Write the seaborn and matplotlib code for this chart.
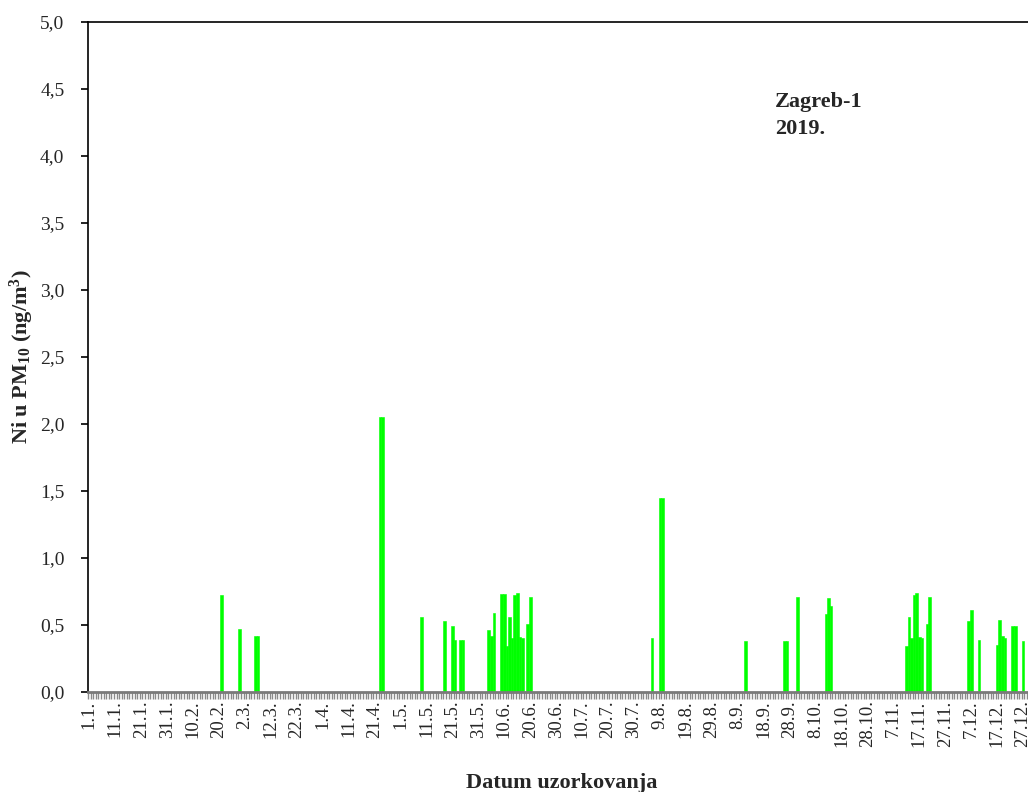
import numpy as np
import pandas as pd
import matplotlib
matplotlib.use("Agg")
import matplotlib.pyplot as plt
import seaborn as sns

# sampling days with measured Ni (other days: no value / zero)
sample_dates = ["02-21", "02-28", "03-06", "03-07", "04-23", "04-24", "05-09",
                "05-18", "05-21", "05-22", "05-24", "05-25",
                "06-04", "06-05", "06-06", "06-09", "06-10", "06-11", "06-12",
                "06-13", "06-14", "06-15", "06-16", "06-17", "06-19", "06-20",
                "08-06", "08-09", "08-10", "09-11", "09-26", "09-27", "10-01",
                "10-12", "10-13", "10-14",
                "11-12", "11-13", "11-14", "11-15", "11-16", "11-17", "11-18",
                "11-20", "11-21",
                "12-06", "12-07", "12-10", "12-17", "12-18", "12-19", "12-20",
                "12-23", "12-24", "12-27"]
ni_values = [0.72, 0.47, 0.42, 0.42, 2.05, 2.05, 0.56,
             0.53, 0.49, 0.39, 0.39, 0.39,
             0.46, 0.42, 0.59, 0.73, 0.73, 0.34, 0.56,
             0.40, 0.72, 0.74, 0.41, 0.40, 0.51, 0.71,
             0.40, 1.45, 1.45, 0.38, 0.38, 0.38, 0.71,
             0.58, 0.70, 0.64,
             0.34, 0.56, 0.40, 0.72, 0.74, 0.41, 0.40,
             0.51, 0.71,
             0.53, 0.61, 0.39, 0.35, 0.54, 0.42, 0.40,
             0.49, 0.49, 0.38]

year_days = pd.date_range("2019-01-01", "2019-12-31", freq="D")
day_labels = [f"{d.day}.{d.month}." for d in year_days]

measured = pd.Series(ni_values, index=pd.to_datetime(["2019-" + s for s in sample_dates]))
df = pd.DataFrame({"day": day_labels,
                   "ni": measured.reindex(year_days).fillna(0).values})

sns.set_theme(style="ticks")
plt.rcParams["font.family"] = ["Liberation Serif", "DejaVu Serif"]
plt.rcParams["mathtext.fontset"] = "custom"
plt.rcParams["mathtext.rm"] = "Liberation Serif"
plt.rcParams["mathtext.bf"] = "Liberation Serif:bold"
plt.rcParams["mathtext.default"] = "bf"

fig = plt.figure(figsize=(10.28, 7.92), dpi=100)
ax = fig.add_axes([0.0856, 0.1263, 0.921, 0.846])

sns.barplot(data=df, x="day", y="ni", color="#00ff00", saturation=1,
            width=1.0, linewidth=0.4, edgecolor="#00ff00", errorbar=None, ax=ax)

ax.set_xlim(-0.5, 364.5)
ax.set_ylim(0, 5)

ax.set_xticks(range(0, 365, 10))
ax.set_xticklabels(day_labels[::10], rotation=90, fontsize=13.5)
ax.set_xticks(np.arange(-0.5, 365, 1), minor=True)
ax.tick_params(axis="x", which="major", length=0, pad=6)
ax.tick_params(axis="x", which="minor", length=5, width=1, color="#8a8a8a")

yt = np.arange(0, 5.01, 0.5)
ax.set_yticks(yt)
ax.set_yticklabels([f"{v:.1f}".replace(".", ",") for v in yt], fontsize=14)
ax.tick_params(axis="y", length=5, width=1.2, color="black", pad=12)

for s in ["left", "top", "right"]:
    ax.spines[s].set_color("black")
    ax.spines[s].set_linewidth(1.2)
ax.spines["bottom"].set_color("#7a7a7a")
ax.spines["bottom"].set_linewidth(2)

ax.set_ylabel("Ni u PM$_{10}$ (ng/m$^{3}$)", fontsize=16, fontweight="bold")
ax.yaxis.set_label_coords(-0.055, 0.5)
ax.set_xlabel("Datum uzorkovanja", fontsize=16, fontweight="bold")
ax.xaxis.set_label_coords(0.5, -0.121)

ax.text(0.7255, 0.8955, "Zagreb-1\n2019.", transform=ax.transAxes,
        fontsize=16, fontweight="bold", va="top", ha="left", linespacing=1.45)

fig.savefig("out.png", dpi=100)
